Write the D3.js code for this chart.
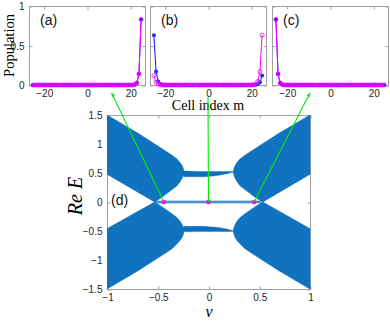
<!DOCTYPE html>
<html>
<head>
<meta charset="utf-8">
<script src="https://cdn.jsdelivr.net/npm/d3@7"></script>
<style>
  body { margin: 0; background: #fff; }
  svg { display: block; }
</style>
</head>
<body>
<div id="chart"></div>
<script>
// ---- data: populations per cell (m = -25 .. 25) ----
const cellIndex = d3.range(-25, 26);

const popA_blue = [
  0, 0, 0, 0, 0, 0, 0, 0, 0, 0, 0, 0, 0, 0, 0, 0, 0,
  0, 0, 0, 0, 0, 0, 0, 0, 0, 0, 0, 0, 0, 0, 0, 0, 0,
  0, 0, 0, 0, 0, 0, 0, 0, 0, 0, 0, 0, 0, 0.005, 0.025, 0.14, 0.83
];
const popA_mag = [
  0, 0, 0, 0, 0, 0, 0, 0, 0, 0, 0, 0, 0, 0, 0, 0, 0,
  0, 0, 0, 0, 0, 0, 0, 0, 0, 0, 0, 0, 0, 0, 0, 0, 0,
  0, 0, 0, 0, 0, 0, 0, 0, 0, 0, 0, 0, 0, 0.005, 0.025, 0.14, 0.83
];
const popB_blue = [
  0.63, 0.17, 0.045, 0.012, 0.003, 0, 0, 0, 0, 0, 0, 0, 0, 0, 0, 0, 0,
  0, 0, 0, 0, 0, 0, 0, 0, 0, 0, 0, 0, 0, 0, 0, 0, 0,
  0, 0, 0, 0, 0, 0, 0, 0, 0, 0, 0, 0, 0, 0.003, 0.01, 0.035, 0.12
];
const popB_mag = [
  0.12, 0.035, 0.01, 0.003, 0, 0, 0, 0, 0, 0, 0, 0, 0, 0, 0, 0, 0,
  0, 0, 0, 0, 0, 0, 0, 0, 0, 0, 0, 0, 0, 0, 0, 0, 0,
  0, 0, 0, 0, 0, 0, 0, 0, 0, 0, 0, 0, 0.003, 0.012, 0.045, 0.17, 0.63
];
const popC_blue = [
  0.83, 0.14, 0.025, 0.005, 0, 0, 0, 0, 0, 0, 0, 0, 0, 0, 0, 0, 0,
  0, 0, 0, 0, 0, 0, 0, 0, 0, 0, 0, 0, 0, 0, 0, 0, 0,
  0, 0, 0, 0, 0, 0, 0, 0, 0, 0, 0, 0, 0, 0, 0, 0, 0
];
const popC_mag = [
  0.83, 0.14, 0.025, 0.005, 0, 0, 0, 0, 0, 0, 0, 0, 0, 0, 0, 0, 0,
  0, 0, 0, 0, 0, 0, 0, 0, 0, 0, 0, 0, 0, 0, 0, 0, 0,
  0, 0, 0, 0, 0, 0, 0, 0, 0, 0, 0, 0, 0, 0, 0, 0, 0
];
const panelLabels = ['(a)', '(b)', '(c)'];
const popTicksX = [-20, 0, 20];
const popTicksY = [0, 0.5, 1];

// ---- data: spectrum Re E vs v, band outlines [v, E] ----
const bandUpperLeft = [[-1, 1.5], [-0.69, 1.18], [-0.45, 0.91], [-0.363, 0.81], [-0.31, 0.74],
  [-0.275, 0.67], [-0.255, 0.61], [-0.245, 0.56], [-0.242, 0.52], [-0.247, 0.47],
  [-0.26, 0.41], [-0.28, 0.35], [-0.31, 0.28], [-0.363, 0.21], [-0.46, 0.08],
  [-0.53, 0], [-1, 0.48]];
const bandUpperRight = [[1, 1.5], [0.69, 1.18], [0.45, 0.91], [0.363, 0.81], [0.31, 0.74],
  [0.275, 0.67], [0.257, 0.61], [0.248, 0.56], [0.245, 0.52], [0.25, 0.47],
  [0.262, 0.41], [0.282, 0.35], [0.31, 0.28], [0.363, 0.21], [0.46, 0.08],
  [0.535, 0], [1, 0.48]];
const bandLowerLeft = [[-1, -1.5], [-0.69, -1.18], [-0.45, -0.91], [-0.363, -0.81], [-0.31, -0.72],
  [-0.275, -0.65], [-0.255, -0.59], [-0.245, -0.54], [-0.242, -0.5], [-0.247, -0.45],
  [-0.26, -0.39], [-0.28, -0.33], [-0.31, -0.27], [-0.363, -0.2], [-0.46, -0.08],
  [-0.53, 0], [-1, -0.46]];
const bandLowerRight = [[1, -1.5], [0.69, -1.18], [0.45, -0.91], [0.363, -0.81], [0.31, -0.72],
  [0.275, -0.65], [0.257, -0.59], [0.248, -0.54], [0.245, -0.5], [0.25, -0.45],
  [0.262, -0.39], [0.282, -0.33], [0.31, -0.27], [0.363, -0.2], [0.46, -0.08],
  [0.535, 0], [1, -0.46]];
const lensUpper = [[-0.245, 0.53], [-0.1, 0.525], [0, 0.525], [0.1, 0.525], [0.25, 0.525],
  [0.2, 0.495], [0.1, 0.46], [0, 0.44], [-0.1, 0.435], [-0.2, 0.435], [-0.245, 0.44]];
const lensLower = [[-0.245, -0.51], [-0.1, -0.51], [0, -0.51], [0.1, -0.51], [0.25, -0.505],
  [0.2, -0.475], [0.1, -0.44], [0, -0.425], [-0.1, -0.42], [-0.2, -0.42], [-0.245, -0.425]];
const edgeStateV = [-0.52, 0.52];
const markedV = [-0.44, 0, 0.45];
const specTicksX = [-1, -0.5, 0, 0.5, 1];
const specTicksY = [-1.5, -1, -0.5, 0, 0.5, 1, 1.5];
// which population panel each marked point links to, and where (cell index)
const pointerPanel = [0, 1, 2];
const pointerCell = [11.4, 0, -9.3];

const tickFont = '"Liberation Sans", Arial, sans-serif';
const serif = '"Liberation Serif", "Times New Roman", serif';
const boxColor = '#a0a0a0';
const textColor = '#262626';

const svg = d3.select('#chart').append('svg')
  .attr('width', 390)
  .attr('height', 321);

// stripe patterns for the dense band of eigenvalue curves
const defs = svg.append('defs');
[32, -32].forEach((ang, i) => {
  const p = defs.append('pattern')
    .attr('id', 'stripe' + i)
    .attr('patternUnits', 'userSpaceOnUse')
    .attr('width', 6).attr('height', 1.6)
    .attr('patternTransform', `rotate(${ang})`);
  p.append('rect').attr('width', 6).attr('height', 1.6).attr('fill', '#0a6fbd');
  p.append('rect').attr('width', 6).attr('height', 0.5).attr('fill', '#1c7ac4');
});

// ---------- top: population panels ----------
const panelLeft = [29, 150, 272];
const panelW = 116, panelTop = 6, panelH = 79;
const popX = d3.scaleLinear().domain([-26.8, 26.8]).range([0, panelW]);
const popY = d3.scaleLinear().domain([0, 1]).range([panelH, 0]);
const panelData = [[popA_blue, popA_mag], [popB_blue, popB_mag], [popC_blue, popC_mag]];

panelData.forEach((series, i) => {
  const g = svg.append('g').attr('transform', `translate(${panelLeft[i]},${panelTop})`);

  g.append('rect')
    .attr('x', 0.5).attr('y', 0.5)
    .attr('width', panelW).attr('height', panelH)
    .attr('fill', 'none').attr('stroke', boxColor);

  g.append('g').attr('transform', `translate(0.5,${panelH + 0.5})`)
    .call(d3.axisBottom(popX).tickValues(popTicksX).tickSize(-3).tickPadding(4).tickFormat(d3.format('d')));
  g.append('g').attr('transform', 'translate(0.5,0.5)')
    .call(d3.axisTop(popX).tickValues(popTicksX).tickSize(-3).tickFormat(''));
  g.append('g').attr('transform', 'translate(0.5,0.5)')
    .call(d3.axisLeft(popY).tickValues(popTicksY).tickSize(-3).tickPadding(5)
      .tickFormat(i === 0 ? d3.format('') : ''));
  g.append('g').attr('transform', `translate(${panelW + 0.5},0.5)`)
    .call(d3.axisRight(popY).tickValues(popTicksY).tickSize(-3).tickFormat(''));
  g.selectAll('.domain').remove();
  g.selectAll('.tick line').attr('stroke', boxColor);
  g.selectAll('.tick text').attr('fill', textColor).style('font-family', tickFont).style('font-size', '10px');

  const line = d3.line().x((d, k) => popX(cellIndex[k])).y(d => popY(d));

  // blue: filled circles
  g.append('path').datum(series[0])
    .attr('d', line).attr('fill', 'none').attr('stroke', '#1010ff').attr('stroke-width', 1);
  g.selectAll('.dotB').data(series[0]).enter().append('circle')
    .attr('cx', (d, k) => popX(cellIndex[k])).attr('cy', d => popY(d))
    .attr('r', 2).attr('fill', '#2a2aff');

  // magenta: open circles
  g.append('path').datum(series[1])
    .attr('d', line).attr('fill', 'none').attr('stroke', '#ff00ff').attr('stroke-width', 1);
  g.selectAll('.dotM').data(series[1]).enter().append('circle')
    .attr('cx', (d, k) => popX(cellIndex[k])).attr('cy', d => popY(d))
    .attr('r', 2).attr('fill', 'none').attr('stroke', '#ff00ff').attr('stroke-width', 0.8);

  g.append('text')
    .attr('x', 11).attr('y', 18.5)
    .style('font-family', tickFont).style('font-size', '14px')
    .attr('fill', '#111')
    .text(panelLabels[i]);
});

svg.append('text')
  .attr('transform', `translate(13.5,${panelTop + panelH / 2})rotate(-90)`)
  .attr('text-anchor', 'middle')
  .style('font-family', serif).style('font-size', '14.5px')
  .attr('fill', '#000')
  .text('Population');

svg.append('text')
  .attr('x', 208).attr('y', 110)
  .attr('text-anchor', 'middle')
  .style('font-family', serif).style('font-size', '14px')
  .attr('fill', '#000')
  .text('Cell index m');

// ---------- bottom: spectrum ----------
const sx0 = 107, sx1 = 310, sy0 = 115, sy1 = 289;
const specX = d3.scaleLinear().domain([-1, 1]).range([sx0, sx1]);
const specY = d3.scaleLinear().domain([-1.5, 1.5]).range([sy1, sy0]);
const spec = svg.append('g');

spec.append('rect')
  .attr('x', sx0 + 0.5).attr('y', sy0 + 0.5)
  .attr('width', sx1 - sx0).attr('height', sy1 - sy0)
  .attr('fill', 'none').attr('stroke', boxColor);

spec.append('g').attr('transform', `translate(0.5,${sy1 + 0.5})`)
  .call(d3.axisBottom(specX).tickValues(specTicksX).tickSize(-3).tickPadding(4).tickFormat(d3.format('')));
spec.append('g').attr('transform', `translate(0.5,${sy0 + 0.5})`)
  .call(d3.axisTop(specX).tickValues(specTicksX).tickSize(-3).tickFormat(''));
spec.append('g').attr('transform', `translate(${sx0 + 0.5},0.5)`)
  .call(d3.axisLeft(specY).tickValues(specTicksY).tickSize(-3).tickPadding(5).tickFormat(d3.format('')));
spec.append('g').attr('transform', `translate(${sx1 + 0.5},0.5)`)
  .call(d3.axisRight(specY).tickValues(specTicksY).tickSize(-3).tickFormat(''));
spec.selectAll('.domain').remove();
spec.selectAll('.tick line').attr('stroke', boxColor);
spec.selectAll('.tick text').attr('fill', textColor).style('font-family', tickFont).style('font-size', '10px');

defs.append('clipPath').attr('id', 'specClip')
  .append('rect').attr('x', sx0).attr('y', sy0).attr('width', sx1 - sx0 + 1).attr('height', sy1 - sy0 + 1);

const bandColor = '#0a6fbd';
const area = d3.line().x(d => specX(d[0])).y(d => specY(d[1])).curve(d3.curveLinearClosed);
const bands = spec.append('g').attr('clip-path', 'url(#specClip)');
[[bandUpperLeft, 0], [bandUpperRight, 1], [bandLowerLeft, 1], [bandLowerRight, 0]].forEach(([b, s]) => {
  bands.append('path').datum(b).attr('d', area)
    .attr('fill', `url(#stripe${s})`).attr('stroke', bandColor).attr('stroke-width', 0.6);
});
const lensLine = d3.line().x(d => specX(d[0])).y(d => specY(d[1])).curve(d3.curveCardinalClosed.tension(0.4));
[lensUpper, lensLower].forEach(b => {
  bands.append('path').datum(b).attr('d', lensLine)
    .attr('fill', bandColor).attr('stroke', bandColor).attr('stroke-width', 0.4);
});
// edge states at E = 0 (two nearly degenerate lines)
[-0.013, 0.013].forEach(e => {
  bands.append('line')
    .attr('x1', specX(edgeStateV[0])).attr('x2', specX(edgeStateV[1]))
    .attr('y1', specY(e)).attr('y2', specY(e))
    .attr('stroke', bandColor).attr('stroke-width', 1);
});

// green pointers from marked states to population panels
defs.append('marker')
  .attr('id', 'arr').attr('viewBox', '0 0 10 10')
  .attr('refX', 9).attr('refY', 5)
  .attr('markerWidth', 4).attr('markerHeight', 4)
  .attr('orient', 'auto')
  .append('path').attr('d', 'M0,1L10,5L0,9z').attr('fill', '#00ee00');

markedV.forEach((v, i) => {
  const px = panelLeft[pointerPanel[i]] + popX(pointerCell[i]);
  const py = i === 1 ? 97 : 93;
  svg.append('line')
    .attr('x1', specX(v)).attr('y1', specY(0))
    .attr('x2', px).attr('y2', py)
    .attr('stroke', '#00ee00').attr('stroke-width', 1.1)
    .attr('marker-end', i === 1 ? null : 'url(#arr)');
});

spec.selectAll('.mark').data(markedV).enter().append('circle')
  .attr('cx', d => specX(d)).attr('cy', specY(0))
  .attr('r', 2.3).attr('fill', '#ff00ff');

spec.append('text')
  .attr('x', 111).attr('y', 205)
  .style('font-family', tickFont).style('font-size', '14px')
  .attr('fill', '#111')
  .text('(d)');

svg.append('text')
  .attr('transform', 'translate(81.5,196)rotate(-90)')
  .attr('text-anchor', 'middle')
  .style('font-family', serif).style('font-size', '20px').style('font-style', 'italic')
  .attr('fill', '#000')
  .text('Re E');

svg.append('text')
  .attr('x', 209).attr('y', 317)
  .attr('text-anchor', 'middle')
  .style('font-family', serif).style('font-size', '16px').style('font-style', 'italic')
  .attr('fill', '#000')
  .text('v');
</script>
</body>
</html>
